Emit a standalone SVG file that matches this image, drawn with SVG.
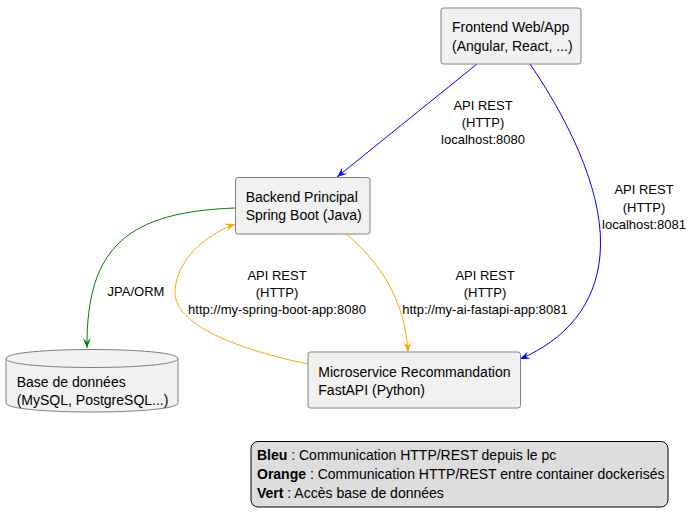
<svg xmlns="http://www.w3.org/2000/svg" width="693" height="526" viewBox="0 0 693 526">
<style>
.node{fill:#F1F1F1;stroke:#808080;stroke-width:1}
.nt{font-family:"Liberation Sans",Arial,sans-serif;font-size:14px;fill:#000}
.lt{font-family:"Liberation Sans",Arial,sans-serif;font-size:13px;fill:#000;text-anchor:middle}
.edge{fill:none;stroke-width:1}
.blue{stroke:#0000FF}
.orange{stroke:#FFA500}
.green{stroke:#008000}
.legend{fill:#DDDDDD;stroke:#000;stroke-width:1}
</style>
<defs>
<marker id="ab" viewBox="-11 -5 12 10" refX="0" refY="0" markerWidth="12" markerHeight="10" markerUnits="userSpaceOnUse" orient="auto"><path d="M0,0 L-10,-4 L-6,0 L-10,4 Z" fill="#0000FF"/></marker>
<marker id="ao" viewBox="-11 -5 12 10" refX="0" refY="0" markerWidth="12" markerHeight="10" markerUnits="userSpaceOnUse" orient="auto"><path d="M0,0 L-10,-4 L-6,0 L-10,4 Z" fill="#FFA500"/></marker>
<marker id="ag" viewBox="-11 -5 12 10" refX="0" refY="0" markerWidth="12" markerHeight="10" markerUnits="userSpaceOnUse" orient="auto"><path d="M0,0 L-10,-4 L-6,0 L-10,4 Z" fill="#008000"/></marker>
</defs>
<rect width="693" height="526" fill="#FFFFFF"/>
<g id="connectors">
<path class="edge blue" d="M477,64 L337,177" marker-end="url(#ab)"/>
<path class="edge blue" d="M530,64 C575,130 605,200 600,255 C596,305 565,340 520,359" marker-end="url(#ab)"/>
<path class="edge green" d="M235,208 C130,212 86,245 87,348" marker-end="url(#ag)"/>
<path class="edge orange" d="M346,234 C380,262 405,300 408,352" marker-end="url(#ao)"/>
<path class="edge orange" d="M308,364 C240,350 172,325 175,290 C177,260 205,235 235,224" marker-end="url(#ao)"/>
<text class="lt" x="483" y="110">API REST</text>
<text class="lt" x="483" y="127">(HTTP)</text>
<text class="lt" x="483" y="144">localhost:8080</text>
<text class="lt" x="644" y="194">API REST</text>
<text class="lt" x="644" y="211.5">(HTTP)</text>
<text class="lt" x="644" y="229">localhost:8081</text>
<text class="lt" x="136" y="296">JPA/ORM</text>
<text class="lt" x="277" y="280">API REST</text>
<text class="lt" x="277" y="297">(HTTP)</text>
<text class="lt" x="277" y="314">http://my-spring-boot-app:8080</text>
<text class="lt" x="485" y="280">API REST</text>
<text class="lt" x="485" y="297">(HTTP)</text>
<text class="lt" x="485" y="314">http://my-ai-fastapi-app:8081</text>
</g>
<g id="frontend">
<rect class="node" x="441" y="8" width="140" height="56" rx="2.5"/>
<text class="nt" x="452" y="32.3">Frontend Web/App</text>
<text class="nt" x="452" y="51">(Angular, React, ...)</text>
</g>
<g id="backend">
<rect class="node" x="235.5" y="177.5" width="134.5" height="56.5" rx="2.5"/>
<text class="nt" x="245.7" y="201.7">Backend Principal</text>
<text class="nt" x="245.7" y="220.4">Spring Boot (Java)</text>
</g>
<g id="microservice">
<rect class="node" x="308" y="352" width="212.5" height="56" rx="2.5"/>
<text class="nt" x="318.3" y="376.7">Microservice Recommandation</text>
<text class="nt" x="318.3" y="395.4">FastAPI (Python)</text>
</g>
<g id="database">
<path class="node" d="M6,358.5 C6,346.5 178,346.5 178,358.5 L178,403 C178,415 6,415 6,403 Z"/>
<path fill="none" stroke="#808080" stroke-width="1" d="M6,358.5 C6,370.5 178,370.5 178,358.5"/>
<text class="nt" x="16.7" y="386.5">Base de données</text>
<text class="nt" x="16.7" y="405">(MySQL, PostgreSQL...)</text>
</g>
<g id="legend">
<rect class="legend" x="251" y="441.5" width="417" height="65.5" rx="7"/>
<text class="nt" x="257" y="460"><tspan font-weight="bold">Bleu</tspan> : Communication HTTP/REST depuis le pc</text>
<text class="nt" x="257" y="479"><tspan font-weight="bold">Orange</tspan> : Communication HTTP/REST entre container dockerisés</text>
<text class="nt" x="257" y="498"><tspan font-weight="bold">Vert</tspan> : Accès base de données</text>
</g>
</svg>
